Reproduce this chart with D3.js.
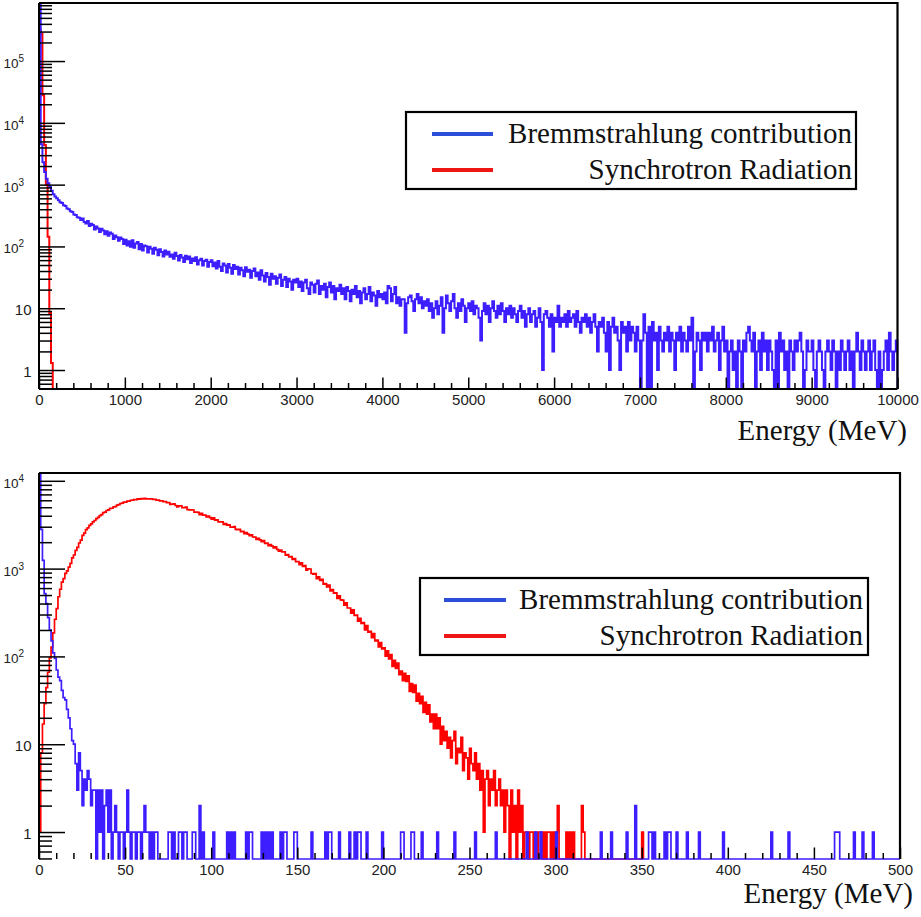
<!DOCTYPE html>
<html>
<head>
<meta charset="utf-8">
<script src="https://cdn.jsdelivr.net/npm/d3@7"></script>
<style>
body { margin: 0; background: #fff; }
svg { display: block; }
</style>
</head>
<body>
<div id="chart"></div>
<script>
// ---- data (counts per bin) ----

// upper panel: 0 - 10000 MeV, 20 MeV bins
var topBinWidth = 20;
var topBrems = [
1000000,4500,2300,1600,1250,1050,920,800,700,640,600,560,520,505,462,452,410,398,370,362,328,322,296,290,268,
282,248,236,258,214,232,223,188,210,196,172,194,181,158,176,149,168,160,132,150,141,124,139,132,110,
128,104,121,99,126,95,112,118,90,109,86,104,101,80,99,92,76,95,88,72,90,81,69,86,74,
82,68,74,63,79,70,59,73,66,56,71,62,69,54,64,58,67,51,60,63,49,58,61,47,56,
60,48,55,44,58,47,40,53,49,38,52,45,36,50,43,47,35,45,41,33,46,39,42,31,40,
44,33,38,29,41,34,27,37,32,24,36,30,33,25,31,35,23,29,32,22,30,27,20,29,26,
30,22,27,19,26,29,21,17,26,24,18,25,28,17,23,20,25,15,22,26,18,23,14,21,19,
24,17,21,14,22,19,13,20,17,23,15,19,12,18,21,14,17,22,13,18,16,11,19,15,17,
14,18,12,23,21,13,17,22,12,15,11,14,14,4,12,15,16,13,9,14,17,12,15,10,13,
11,14,9,12,7,10,13,8,11,15,4,10,16,12,9,13,17,10,7,12,9,14,11,6,10,
12,9,13,8,11,10,7,3,9,12,8,11,6,10,13,9,7,11,8,12,9,6,10,8,11,
7,10,8,6,9,11,7,9,5,8,10,6,8,9,5,7,10,6,1,8,9,7,5,8,2,
7,6,11,5,7,6,8,5,9,6,7,8,5,9,6,4,7,6,8,5,7,4,6,8,5,
2,6,5,7,4,2,6,1,5,7,4,5,3,1,6,4,5,2,6,3,5,4,2,5,3,
0,3,8,4,0,5,0,6,3,4,1,5,3,2,4,3,5,2,4,3,1,4,3,5,2,
4,3,2,5,3,7,0,2,4,3,1,4,3,4,2,4,3,5,2,3,4,1,3,5,2,
3,0,2,3,1,2,0,3,2,0,3,2,4,5,3,2,4,0,2,3,1,4,2,3,1,
3,2,1,0,3,0,4,2,3,1,2,0,3,2,1,3,2,3,4,2,0,1,3,2,2,
3,1,0,2,3,2,1,0,2,3,2,1,3,2,0,2,1,3,2,1,2,3,1,2,0,
2,4,2,1,3,2,1,2,3,1,2,3,1,0,2,0,1,2,3,1,4,2,1,2,3
];
var topSynch = [320000,280000,28000,4400,1000,143,8.4,1.3,0];

// lower panel: 0 - 500 MeV, 1 MeV bins
var lowBinWidth = 1;
var lowBrems = [
15000,2800,1240,520,400,277,200,150,110,95, 70,58,53,41,34,32,25,20,15,11,
10,6,3,8,5,2,4,3,5,4, 2,3,3,0,3,1,3,0,2,3,
1,3,0,1,2,1,0,1,1,0, 1,3,1,0,1,1,0,1,1,0,
1,2,1,1,0,1,0,1,1,0, 0,0,0,0,0,1,1,0,1,0,
0,1,1,0,1,1,0,0,0,1, 1,0,0,2,0,1,0,0,0,0,
0,1,0,0,0,0,0,0,0,1, 0,1,0,1,0,0,0,0,0,0,
1,0,1,1,0,0,0,0,0,1, 0,1,0,1,0,1,0,0,0,0,
1,0,1,1,0,0,0,0,1,1, 0,0,0,0,0,0,0,0,1,0,
0,0,0,0,0,0,1,0,1,1, 0,0,0,0,1,0,0,0,0,0,
1,0,0,1,0,1,1,0,0,0, 1,0,0,0,0,0,0,0,0,1,
0,0,0,0,0,0,0,0,0,0, 1,1,0,0,0,0,1,1,0,0,
0,0,1,0,0,0,0,0,0,0, 0,1,0,0,0,0,0,0,0,0,
0,1,0,0,0,0,0,0,0,0, 0,0,0,1,0,0,0,0,0,0,
0,0,0,0,0,1,0,0,0,0, 0,0,0,0,0,0,0,0,0,0,
0,0,0,1,0,0,0,0,1,0, 0,1,0,0,0,0,0,0,0,0,
1,0,0,0,0,0,0,0,0,0, 0,0,0,0,0,0,0,0,0,0,
0,0,0,0,0,0,1,0,0,0, 0,0,1,0,0,0,0,0,0,0,
0,1,0,0,0,0,2,0,0,0, 0,0,0,0,1,1,0,1,0,0,
0,0,0,1,0,1,1,0,0,0, 1,0,0,0,0,0,1,0,0,0,
0,0,0,1,0,0,0,0,0,0, 0,0,0,0,0,0,0,1,0,0,
0,0,0,0,0,0,0,0,0,0, 0,0,0,0,0,0,0,0,0,0,
0,0,0,0,0,1,0,0,0,0, 0,0,0,0,0,1,0,0,0,0,
0,0,0,0,0,0,0,0,0,0, 0,0,0,0,0,0,0,0,0,0,
0,0,1,1,1,0,0,0,0,0, 0,0,0,1,0,0,0,0,1,0,
0,0,0,0,1,0,0,0,0,0, 0,0,0,0,0,0,0,0,0,0
];
var lowSynch = [
1,8,17,29,44,66,96,128,185,265,
350,478,582,702,771,884,941,1042,1149,1322,
1428,1615,1742,1958,2114,2396,2541,2782,2910,3115,
3238,3402,3531,3718,3839,4021,4112,4338,4395,4589,
4662,4851,4868,5042,5093,5291,5362,5512,5561,5702,
5731,5862,5884,6003,6012,6124,6118,6212,6190,6291,
6208,6302,6221,6243,6232,6219,6121,6140,6032,6040,
5910,5928,5801,5789,5652,
5630,5390,5420,5460,5230,5050,5190,5170,4950,4930,5010,4700,4670,4680,4650,4390,4400,4370,4120,4260,4060,4070,3870,3960,3810,
3670,3780,3570,3580,3410,3410,3410,3180,3250,3120,3160,2970,2970,3000,2800,2770,2800,2630,2660,2500,2570,2470,2370,2430,2290,
2280,2150,2210,2120,2030,2080,1940,1950,1830,1880,1800,1720,1770,1660,1580,1620,1550,1550,1420,1440,1360,1370,1270,1300,1200,
1200,1110,1160,1060,1080,960,995,990,880,865,875,770,805,735,757,664,677,618,648,556,576,524,531,459,489,
440,437,384,408,356,356,312,338,294,296,252,272,237,243,201,225,189,193,164,182,150,153,128,144,122,
125,101,116,94,105,77,90,73,84,62,68,53,64,52,60,40,49,39,47,31,38,29,35,23,30,
22,28,18,22,15,22,15,20,10,16,11,14,9,12,7,11,14,6,9,8,12,5,8,7,4,
9,6,5,8,4,6,3,5,1,4,5,2,4,3,5,2,3,4,2,3,1,3,2,0,3,
1,2,0,3,1,2,0,1,1,0,1,1,0,1,0,1,1,0,1,0,1,1,0,1,0,
1,2,0,0,0,0,1,0,1,0,1,0,0,0,0,2,1,0,0,0,0,0,0,0,0,
0,0,0,0,0,0,0,0,0,0,0,0,0,0,0,0,0,0,0,0,0,0,0,0,0,
1
];

var legendLabels = ["Bremmstrahlung contribution", "Synchrotron Radiation"];
var xTitle = "Energy (MeV)";

// ---- styles ----
var BLUE = "#3c1eff", RED = "#ff0000";
var LEG_BLUE = "#2b4fd9", LEG_RED = "#ee1515";
var SANS = "'Liberation Sans', Arial, Helvetica, sans-serif";
var SERIF = "'Liberation Serif', 'Times New Roman', Times, serif";

var svg = d3.select("#chart").append("svg")
    .attr("width", 921)
    .attr("height", 917);

svg.append("rect").attr("width", 921).attr("height", 917).attr("fill", "#fff");

var panels = [
    { id: "top", left: 39, right: 897.5, top: 3, bottom: 389,
      xMax: 10000, major: 1000, minor: 200, yMin: 0.493, yMax: 870000,
      binWidth: topBinWidth, brems: topBrems, synch: topSynch, lineW: 2,
      legend: { x: 406, y: 112, w: 450, h: 77, lineX: 432, lineW: 61, textX: 852, row1: 134, row2: 170 },
      titleX: 907, titleY: 440 },
    { id: "low", left: 39, right: 900, top: 473, bottom: 859,
      xMax: 500, major: 50, minor: 10, yMin: 0.493, yMax: 12270,
      binWidth: lowBinWidth, brems: lowBrems, synch: lowSynch, lineW: 1.7,
      legend: { x: 420, y: 578, w: 448, h: 77, lineX: 444, lineW: 62, textX: 863, row1: 600, row2: 636 },
      titleX: 913, titleY: 903 }
];

panels.forEach(drawPanel);

function drawPanel(p) {
    var x = d3.scaleLinear().domain([0, p.xMax]).range([p.left, p.right]);
    var y = d3.scaleLog().domain([p.yMin, p.yMax]).range([p.bottom, p.top]);
    var nBins = Math.round(p.xMax / p.binWidth);

    var g = svg.append("g").attr("class", "panel-" + p.id);

    g.append("clipPath").attr("id", "clip-" + p.id)
        .append("rect")
        .attr("x", p.left - 2).attr("y", p.top)
        .attr("width", p.right - p.left + 3)
        .attr("height", p.bottom - p.top + 1.5);

    // histogram outline, zero / underflow bins sit on the frame bottom
    function histPath(vals, n) {
        var pts = [[x(0), p.bottom]];
        for (var i = 0; i < n; i++) {
            var v = vals[i] || 0;
            var yy = v > 0 ? Math.min(y(v), p.bottom) : p.bottom;
            pts.push([x(i * p.binWidth), yy], [x((i + 1) * p.binWidth), yy]);
        }
        pts.push([x(n * p.binWidth), p.bottom]);
        return d3.line()(pts);
    }

    var hg = g.append("g").attr("clip-path", "url(#clip-" + p.id + ")");
    hg.append("path")
        .attr("d", histPath(p.synch, Math.min(p.synch.length, nBins)))
        .attr("fill", "none").attr("stroke", RED).attr("stroke-width", p.lineW);
    hg.append("path")
        .attr("d", histPath(p.brems, nBins))
        .attr("fill", "none").attr("stroke", BLUE).attr("stroke-width", p.lineW);

    // frame (top, right); left/bottom drawn as axis lines
    g.append("path")
        .attr("d", "M" + p.left + "," + p.top + "H" + p.right + "V" + p.bottom)
        .attr("fill", "none").attr("stroke", "#000").attr("stroke-width", 2.2);
    g.append("line")
        .attr("x1", p.left).attr("x2", p.left).attr("y1", p.top).attr("y2", p.bottom)
        .attr("stroke", "#000").attr("stroke-width", 2);
    if (p.id === "top") {
        g.append("line")
            .attr("x1", p.left).attr("x2", p.right).attr("y1", p.bottom).attr("y2", p.bottom)
            .attr("stroke", "#000").attr("stroke-width", 2);
    }

    // x axis: major + minor ticks pointing inside
    var majorX = d3.range(0, p.xMax + 1, p.major);
    var minorX = d3.range(0, p.xMax + 1, p.minor).filter(function (d) { return d % p.major !== 0; });

    g.append("g")
        .attr("transform", "translate(0," + p.bottom + ")")
        .call(d3.axisBottom(x).tickValues(minorX).tickSize(-6).tickFormat(""))
        .call(function (a) { a.select(".domain").remove(); })
        .selectAll("line").attr("stroke-width", 1.5);

    g.append("g")
        .attr("transform", "translate(0," + p.bottom + ")")
        .call(d3.axisBottom(x).tickValues(majorX).tickSize(-11.5).tickPadding(5).tickFormat(d3.format("d")))
        .call(function (a) { a.select(".domain").remove(); })
        .call(function (a) {
            a.selectAll("line").attr("stroke-width", 1.5);
            a.selectAll("text").attr("font-family", SANS).attr("font-size", "15px").attr("fill", "#222");
        });

    // y axis: decades + 2..9 minors
    var lo = Math.floor(Math.log10(p.yMin)), hi = Math.floor(Math.log10(p.yMax));
    var majorY = d3.range(0, hi + 1).map(function (e) { return Math.pow(10, e); });
    var minorY = [];
    d3.range(lo, hi + 1).forEach(function (e) {
        for (var m = 2; m <= 9; m++) {
            var v = m * Math.pow(10, e);
            if (v >= p.yMin && v <= p.yMax) minorY.push(v);
        }
    });

    g.append("g")
        .attr("transform", "translate(" + p.left + ",0)")
        .call(d3.axisLeft(y).tickValues(minorY).tickSize(-13).tickFormat(""))
        .call(function (a) { a.select(".domain").remove(); })
        .selectAll("line").attr("stroke-width", 1.5);

    g.append("g")
        .attr("transform", "translate(" + p.left + ",0)")
        .call(d3.axisLeft(y).tickValues(majorY).tickSize(-26).tickPadding(7.5).tickFormat(""))
        .call(function (a) { a.select(".domain").remove(); })
        .call(function (a) {
            a.selectAll("line").attr("stroke-width", 1.5);
            a.selectAll(".tick text").each(function (d) {
                var t = d3.select(this)
                    .attr("font-family", SANS).attr("fill", "#222")
                    .attr("dy", "6.5");
                var e = Math.round(Math.log10(d));
                if (e < 2) {
                    t.attr("font-size", "15px").text(e === 0 ? "1" : "10");
                } else {
                    t.attr("x", -15).attr("font-size", "13.5px").text("10");
                    t.append("tspan").attr("dy", -6).attr("font-size", "10px").text(e);
                }
            });
        });

    // axis title
    g.append("text")
        .attr("x", p.titleX).attr("y", p.titleY)
        .attr("text-anchor", "end")
        .attr("font-family", SERIF).attr("font-size", "29px").attr("fill", "#111")
        .text(xTitle);

    // legend
    var L = p.legend;
    var lg = g.append("g").attr("class", "legend");
    lg.append("rect")
        .attr("x", L.x).attr("y", L.y).attr("width", L.w).attr("height", L.h)
        .attr("fill", "#fff").attr("stroke", "#000").attr("stroke-width", 2.2);
    [LEG_BLUE, LEG_RED].forEach(function (c, i) {
        var yy = i === 0 ? L.row1 : L.row2;
        lg.append("line")
            .attr("x1", L.lineX).attr("x2", L.lineX + L.lineW)
            .attr("y1", yy).attr("y2", yy)
            .attr("stroke", c).attr("stroke-width", 4);
        lg.append("text")
            .attr("x", L.textX).attr("y", yy + 9)
            .attr("text-anchor", "end")
            .attr("font-family", SERIF).attr("font-size", "29px").attr("fill", "#111")
            .text(legendLabels[i]);
    });
}
</script>
</body>
</html>
